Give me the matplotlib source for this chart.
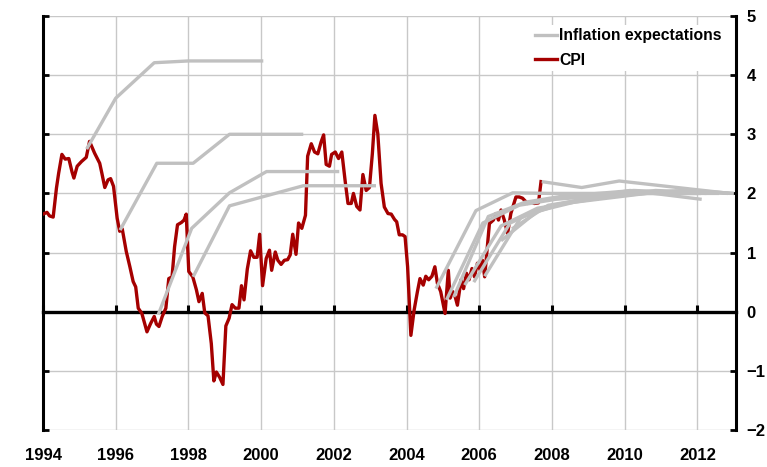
import matplotlib
matplotlib.use("Agg")
import matplotlib.pyplot as plt
from matplotlib.lines import Line2D

plt.rcParams['font.family'] = ['Liberation Sans', 'DejaVu Sans']
plt.rcParams['font.weight'] = 'bold'

# ---- data ----
cpi_dates = [1994.00, 1994.11, 1994.18, 1994.28, 1994.37, 1994.43, 1994.52, 1994.61, 1994.71, 1994.80,
             1994.85, 1994.94, 1995.06, 1995.19, 1995.28, 1995.42, 1995.56, 1995.62, 1995.70, 1995.79,
             1995.86, 1995.94, 1996.04, 1996.11, 1996.18, 1996.29, 1996.39, 1996.48, 1996.55, 1996.62,
             1996.72, 1996.86, 1996.96, 1997.06, 1997.12, 1997.19, 1997.28, 1997.38, 1997.46, 1997.55,
             1997.62, 1997.70, 1997.81, 1997.88, 1997.94, 1998.01, 1998.12, 1998.22, 1998.29, 1998.38,
             1998.45, 1998.54, 1998.63, 1998.70, 1998.77, 1998.86, 1998.95, 1999.03, 1999.12, 1999.20,
             1999.29, 1999.39, 1999.46, 1999.53, 1999.62, 1999.71, 1999.80, 1999.89, 1999.96, 2000.04,
             2000.14, 2000.23, 2000.29, 2000.39, 2000.46, 2000.55, 2000.64, 2000.73, 2000.80, 2000.87,
             2000.96, 2001.03, 2001.12, 2001.22, 2001.28, 2001.38, 2001.47, 2001.56, 2001.65, 2001.72,
             2001.79, 2001.88, 2001.94, 2002.04, 2002.13, 2002.22, 2002.31, 2002.39, 2002.48, 2002.54,
             2002.63, 2002.72, 2002.80, 2002.89, 2002.98, 2003.06, 2003.13, 2003.21, 2003.30, 2003.39,
             2003.49, 2003.58, 2003.67, 2003.73, 2003.80, 2003.89, 2003.96, 2004.03, 2004.12, 2004.21,
             2004.30, 2004.37, 2004.46, 2004.53, 2004.61, 2004.70, 2004.78, 2004.85, 2004.94, 2005.06,
             2005.15, 2005.20, 2005.27, 2005.34, 2005.40, 2005.50, 2005.57, 2005.65, 2005.72, 2005.80,
             2005.87, 2005.95, 2006.03, 2006.09, 2006.15, 2006.20, 2006.28, 2006.39, 2006.46, 2006.53,
             2006.60, 2006.69, 2006.78, 2006.87, 2007.01, 2007.10, 2007.19, 2007.33, 2007.42, 2007.51,
             2007.63, 2007.70]
cpi_values = [1.65, 1.68, 1.62, 1.60, 2.09, 2.34, 2.66, 2.58, 2.59, 2.36,
              2.26, 2.46, 2.54, 2.61, 2.88, 2.68, 2.51, 2.34, 2.10, 2.23,
              2.25, 2.12, 1.58, 1.36, 1.40, 1.02, 0.76, 0.51, 0.42, 0.06,
              -0.03, -0.34, -0.20, -0.08, -0.21, -0.25, -0.08, 0.06, 0.56, 0.59,
              1.10, 1.47, 1.51, 1.55, 1.65, 0.68, 0.59, 0.37, 0.17, 0.31,
              -0.02, -0.07, -0.54, -1.17, -1.02, -1.11, -1.23, -0.24, -0.11, 0.12,
              0.06, 0.06, 0.44, 0.20, 0.72, 1.03, 0.92, 0.92, 1.31, 0.44,
              0.90, 1.04, 0.70, 1.01, 0.87, 0.80, 0.87, 0.88, 0.96, 1.31,
              0.97, 1.50, 1.41, 1.63, 2.63, 2.84, 2.70, 2.67, 2.87, 2.99,
              2.49, 2.46, 2.66, 2.70, 2.59, 2.70, 2.22, 1.83, 1.83, 2.00,
              1.78, 1.72, 2.32, 2.05, 2.10, 2.67, 3.32, 3.01, 2.17, 1.77,
              1.66, 1.65, 1.56, 1.52, 1.30, 1.30, 1.27, 0.76, -0.40, 0.03,
              0.34, 0.56, 0.45, 0.60, 0.54, 0.60, 0.76, 0.48, 0.34, -0.03,
              0.70, 0.23, 0.34, 0.25, 0.11, 0.54, 0.39, 0.65, 0.54, 0.73,
              0.59, 0.82, 0.70, 0.87, 0.59, 0.93, 1.49, 1.55, 1.66, 1.55,
              1.72, 1.55, 1.32, 1.66, 1.94, 1.94, 1.92, 1.83, 1.86, 1.83,
              1.84, 2.20]

# Inflation expectation paths (forecast dates, expected inflation)
exp_1995_x = [1995.20, 1996.00, 1997.06, 1998.00, 2000.06]
exp_1995_y = [2.75, 3.61, 4.21, 4.24, 4.24]
exp_1996_x = [1996.12, 1997.13, 1998.13, 1999.13, 2001.16]
exp_1996_y = [1.38, 2.51, 2.51, 3.00, 3.00]
exp_1997_x = [1997.17, 1998.09, 1999.13, 2000.15, 2002.15]
exp_1997_y = [-0.05, 1.41, 2.01, 2.37, 2.37]
exp_1998_x = [1998.13, 1999.13, 2001.16, 2003.16]
exp_1998_y = [0.59, 1.79, 2.13, 2.13]
exp_2004q4_x = [2004.81, 2005.91, 2006.92, 2008.00, 2010.00, 2012.00]
exp_2004q4_y = [0.39, 1.71, 2.01, 2.00, 2.00, 2.00]
exp_2005q1_x = [2005.10, 2006.10, 2007.10, 2008.10, 2010.10, 2012.10]
exp_2005q1_y = [0.20, 1.50, 1.80, 1.90, 2.00, 2.00]
exp_2005q2_x = [2005.30, 2006.25, 2007.25, 2008.25, 2010.25, 2012.25]
exp_2005q2_y = [0.25, 1.61, 1.85, 1.95, 2.05, 2.00]
exp_2005q3_x = [2005.60, 2006.60, 2007.60, 2008.60, 2010.60, 2012.60]
exp_2005q3_y = [0.45, 1.45, 1.75, 1.85, 2.00, 2.00]
exp_2005q4_x = [2005.85, 2006.85, 2007.85, 2008.85, 2010.85, 2012.85]
exp_2005q4_y = [0.50, 1.50, 1.78, 1.90, 2.05, 2.00]
exp_2006q1_x = [2006.15, 2007.15, 2008.15, 2009.15, 2010.15, 2012.12]
exp_2006q1_y = [0.60, 1.60, 1.80, 1.95, 2.05, 1.90]
exp_2006q3_x = [2006.60, 2007.60, 2008.60, 2009.60, 2011.60, 2013.00]
exp_2006q3_y = [1.20, 1.70, 1.85, 1.95, 2.05, 2.00]
exp_2006q4_x = [2006.90, 2007.90, 2008.90, 2009.90, 2011.90, 2013.00]
exp_2006q4_y = [1.40, 1.80, 1.90, 2.00, 2.05, 2.00]
exp_2007q3_x = [2007.72, 2008.82, 2009.85, 2012.90]
exp_2007q3_y = [2.20, 2.10, 2.21, 2.00]

expectations = [
    (exp_1995_x, exp_1995_y), (exp_1996_x, exp_1996_y), (exp_1997_x, exp_1997_y),
    (exp_1998_x, exp_1998_y), (exp_2004q4_x, exp_2004q4_y), (exp_2005q1_x, exp_2005q1_y),
    (exp_2005q2_x, exp_2005q2_y), (exp_2005q3_x, exp_2005q3_y), (exp_2005q4_x, exp_2005q4_y),
    (exp_2006q1_x, exp_2006q1_y), (exp_2006q3_x, exp_2006q3_y), (exp_2006q4_x, exp_2006q4_y),
    (exp_2007q3_x, exp_2007q3_y),
]

x_ticks = [1994, 1996, 1998, 2000, 2002, 2004, 2006, 2008, 2010, 2012]
x_tick_labels = ['1994', '1996', '1998', '2000', '2002', '2004', '2006', '2008', '2010', '2012']
y_ticks = [-2, -1, 0, 1, 2, 3, 4, 5]

RED = '#A50000'
GREY = '#C0C0C0'

fig = plt.figure(figsize=(7.67, 4.67), dpi=100)
ax = fig.add_axes([43 / 767, 1 - 430 / 467, (735.5 - 43) / 767, (430 - 16) / 467])

ax.set_xlim(1994, 2013.05)
ax.set_ylim(-2, 5)

ax.set_xticks(x_ticks)
ax.set_yticks(y_ticks)
ax.grid(True, color='#C8C8C8', linewidth=1.0, zorder=0)
ax.set_axisbelow(True)

ax.plot(cpi_dates, cpi_values, color=RED, linewidth=2.4, zorder=3, solid_joinstyle='round')
for ex, ey in expectations:
    ax.plot(ex, ey, color=GREY, linewidth=2.4, zorder=4, solid_capstyle='butt')

# spines: bottom spine sits on the zero line, ticks point upward
ax.spines['top'].set_visible(False)
ax.spines['bottom'].set_position(('data', 0))
ax.spines['bottom'].set_linewidth(2.4)
ax.spines['bottom'].set_color('black')
for s in ['left', 'right']:
    ax.spines[s].set_linewidth(2.2)
    ax.spines[s].set_color('black')

ax.tick_params(axis='x', direction='in', length=5, width=2.2, labelbottom=False)
ax.tick_params(axis='y', direction='in', length=4, width=2, left=True, right=True,
               labelleft=False, labelright=True, labelsize=12, pad=8)
for lbl in ax.get_yticklabels():
    lbl.set_fontweight('bold')

# year labels along the bottom of the plot area
lab = ax.secondary_xaxis(0)
lab.set_xticks(x_ticks)
lab.set_xticklabels(x_tick_labels, fontsize=12, fontweight='bold')
lab.tick_params(axis='x', length=0, pad=13)
for s in ['top', 'bottom', 'left', 'right']:
    lab.spines[s].set_visible(False)

handles = [Line2D([0], [0], color=GREY, linewidth=2.4),
           Line2D([0], [0], color=RED, linewidth=2.4)]
leg = fig.legend(handles, ['Inflation expectations', 'CPI'], loc='upper left',
                 bbox_to_anchor=(532 / 767, 1 - 25 / 467), bbox_transform=fig.transFigure,
                 frameon=True, fancybox=False,
                 facecolor='white', edgecolor='none', framealpha=1,
                 prop={'size': 11.3, 'weight': 'bold'}, handlelength=1.4,
                 handletextpad=0.15, labelspacing=0.6, borderpad=0.2, borderaxespad=0)
leg.set_zorder(10)

fig.savefig('out.png', dpi=100)
